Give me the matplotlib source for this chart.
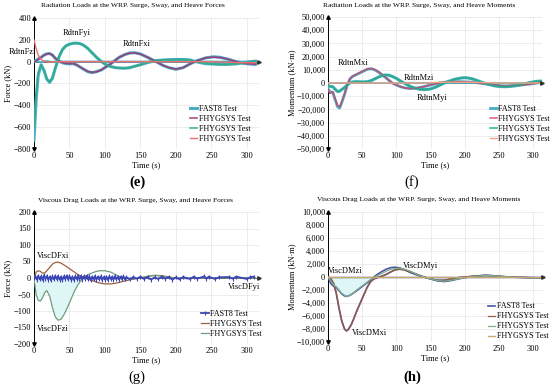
import numpy as np
import matplotlib.pyplot as plt
from matplotlib.ticker import FuncFormatter

plt.rcParams['font.family'] = ['Liberation Serif', 'DejaVu Serif']

# ---- (e) radiation forces ----
t_e = [0, 3, 6, 10, 14, 18, 22, 26, 30, 35, 40, 45, 50, 55, 60, 65, 70, 76, 82, 88, 95, 102, 108, 115,
       120, 128, 135, 142, 150, 160, 172, 182, 190, 200, 210, 220, 228, 235, 242, 253, 262, 272, 285, 295, 305, 312]
fast8_fx_e = [0, 10, 25, 40, 60, 72, 75, 60, 30, 5, -10, -18, -20, -18, -30, -50, -70, -92, -100, -92, -75, -45, -20, 15,
              40, 65, 80, 82, 70, 40, 0, -35, -55, -70, -55, -20, 5, 20, 35, 45, 40, 25, 0, -15, -22, -25]
fhyg_fx_e = [0, 8, 22, 38, 58, 70, 74, 60, 32, 6, -8, -16, -18, -16, -28, -48, -68, -90, -98, -92, -75, -45, -20, 15,
             40, 65, 78, 80, 70, 40, 0, -35, -55, -68, -55, -20, 5, 20, 35, 42, 38, 25, 0, -15, -20, -22]
fast8_fy_e = [-720, -350, -120, -30, -80, -160, -190, -150, -60, 40, 110, 145, 160, 168, 170, 165, 150, 120, 80, 40, 0, -30, -45, -55,
              -58, -60, -55, -42, -28, -8, 10, 15, 18, 20, 20, 15, 0, -10, -18, -22, -25, -25, -20, -10, 0, 5]
fhyg_fy_e = [-600, -300, -100, -25, -75, -155, -185, -150, -60, 40, 110, 145, 160, 168, 170, 165, 150, 120, 80, 40, 0, -30, -45, -55,
             -58, -60, -55, -42, -28, -8, 10, 15, 18, 20, 20, 15, 0, -10, -18, -22, -25, -25, -20, -10, 0, 5]
fast8_fz_e = [10, 5, 0, -5, 0, 5, 0, -3, 0, 2, 0, 0, 0, 0, 0, 0, 0, 0, 0, 0, 0, 0, 0, 0,
              0, 0, 0, 0, 0, 0, 0, 0, 0, 0, 0, 0, 0, 0, 0, 0, 0, 0, 0, 0, 0, 0]
fhyg_fz_e = [200, 120, 60, 20, 5, 0, -3, -2, 0, 0, 0, 0, 0, 0, 0, 0, 0, 0, 0, 0, 0, 0, 0, 0,
             0, 0, 0, 0, 0, 0, 0, 0, 0, 0, 0, 0, 0, 0, 0, -2, -4, -6, -8, -10, -10, -10]

# ---- (f) radiation moments ----
t_f = [0, 3, 7, 10, 14, 17, 20, 24, 28, 32, 36, 40, 46, 52, 58, 64, 70, 76, 82, 88, 94, 100, 106, 113,
       120, 128, 135, 142, 150, 158, 166, 175, 185, 195, 200, 205, 212, 220, 228, 236, 244, 252, 260, 268, 276, 284, 292, 300, 306, 313]
fast8_mx_f = [-4000, -7000, -7000, -12000, -18000, -19000, -15000, -9000, -2000, 3000, 5000, 6000, 7500, 9000, 10500, 10800, 9500, 7500, 5000, 2500, 0, -1500, -2800, -3800,
              -4200, -4000, -3300, -2500, -1500, -500, 300, 800, 1000, 1000, 900, 800, 500, 0, -500, -1000, -1500, -2000, -2200, -2000, -1800, -1500, -1000, -500, 0, 300]
fhyg_mx_f = [-5000, -8000, -6500, -11000, -17000, -18000, -14500, -8500, -1500, 3200, 5200, 6200, 7700, 9300, 10800, 11000, 9800, 7700, 5200, 2600, 0, -1500, -2800, -3800,
             -4200, -4000, -3300, -2500, -1500, -500, 300, 800, 1000, 1000, 900, 800, 500, 0, -500, -1000, -1500, -2000, -2200, -2000, -1800, -1500, -1000, -500, 0, 300]
fast8_my_f = [-2000, -2500, -2800, -4500, -6500, -6200, -5000, -3500, -1500, 0, 800, 1000, 900, 800, 1000, 2000, 3500, 5000, 6000, 6000, 5000, 3500, 1500, -500,
              -2500, -4000, -4800, -5000, -4500, -3000, -1000, 1000, 2800, 3800, 4000, 3800, 3000, 1500, 0, -1200, -2200, -2700, -2800, -2500, -2000, -1000, 0, 800, 1300, 1500]
fhyg_my_f = [-2000, -2500, -2800, -4500, -6300, -6000, -5000, -3500, -1500, 0, 800, 1000, 900, 800, 1000, 2000, 3500, 5000, 6000, 6000, 5000, 3500, 1500, -500,
             -2500, -4000, -4800, -5000, -4500, -3000, -1000, 1000, 2800, 3800, 4000, 3800, 3000, 1500, 0, -1200, -2200, -2700, -2800, -2500, -2000, -1000, 0, 800, 1300, 1500]
fast8_mz_f = [0] * len(t_f)
fhyg_mz_f = [0, 0, 0, 0, 0, 0, 0, 0, 0, 0, 0, 0, 0, 0, 0, 0, 0, 0, 0, 0, 0, 0, 0, 0,
             0, 0, 0, 0, 200, 400, 500, 600, 600, 600, 600, 600, 500, 400, 300, 200, 0, 0, 0, 0, 0, 0, 0, 0, 0, 0]

# ---- (g) viscous drag forces ----
t_g = [0, 3, 6, 9, 12, 15, 18, 22, 26, 30, 34, 38, 42, 47, 52, 57, 62, 67, 72, 78, 85, 92, 100, 108, 115,
       122, 130, 140, 150, 160, 170, 180, 190, 200, 215, 230, 260, 290, 312]
fhyg_fx_g = [0, 18, 22, 20, 15, 15, 22, 32, 42, 47, 48, 45, 40, 33, 25, 18, 10, 5, 0, -5, -10, -15, -18, -18, -16,
             -12, -8, -3, 0, 5, 8, 7, 3, 0, -2, 0, 0, 0, 0]
fhyg_fz_g = [0, -50, -68, -70, -60, -45, -38, -55, -90, -118, -128, -125, -112, -90, -65, -40, -20, -5, 5, 12, 18, 22, 22, 18, 10,
             3, 0, -3, 0, 5, 8, 6, 2, 0, 0, 0, 0, 0, 0]
t_fast8_g = [0, 2, 4, 6, 8, 10, 12, 14, 16, 18, 20, 22, 24, 26, 28, 30, 32, 34, 36, 38, 40, 42, 44, 46, 48, 50,
             52, 54, 56, 58, 60, 62, 64, 66, 68, 70, 72, 74, 76, 78, 80, 82, 84, 86, 88, 90, 92, 94, 96, 98, 100,
             102, 104, 106, 108, 110, 112, 114, 116, 118, 120, 122, 124, 126, 128, 130, 135, 140, 145, 150, 155,
             160, 165, 170, 175, 180, 185, 190, 195, 200, 205, 210, 220, 225, 230, 240, 243, 246, 255, 260, 275, 280, 285, 300, 305, 310]
fast8_fy_g = [0, 6, -5, 7, -4, 5, -6, 8, -3, 6, -5, 4, -7, 5, -4, 7, -3, 6, -5, 4, -6, 5, -3, 7, -4, 6,
              -5, 4, -6, 5, -3, 7, -4, 6, -5, 5, -3, 6, -4, 5, -6, 4, -3, 6, -5, 4, -4, 5, -6, 3, -5,
              4, -6, 5, -3, 4, -5, 6, -4, 3, -5, 4, -3, 5, -4, 3, -4, 3, -2, 4, -3,
              3, -5, 2, -3, 4, -2, 3, -5, 2, -4, 3, -3, 4, -2, 5, -2, 4, -3, 2, 3, -2, 4, -3, 3, 4]

# ---- (h) viscous drag moments ----
t_h = [0, 4, 8, 12, 16, 20, 24, 27, 30, 34, 38, 42, 47, 52, 57, 62, 67, 72, 78, 85, 92, 98, 105, 112,
       120, 130, 140, 150, 160, 170, 180, 190, 200, 210, 220, 230, 240, 250, 265, 280, 295, 312]
fast8_mx_h = [0, -300, -1000, -2500, -4800, -6800, -8000, -8300, -8000, -7300, -6300, -5200, -4000, -2800, -1600, -700, -300, -100, 100, 400, 800, 1100, 1200, 1100,
              800, 400, 0, -300, -500, -500, -300, -100, 0, 100, 200, 250, 200, 100, 0, -50, -100, -100]
fhyg_mx_h = [0, -200, -900, -2300, -4600, -6600, -7900, -8300, -8100, -7400, -6400, -5300, -4100, -2900, -1700, -800, -300, -100, 100, 400, 800, 1100, 1200, 1100,
             800, 400, 0, -300, -500, -500, -300, -100, 0, 100, 200, 250, 200, 100, 0, -50, -100, -100]
fast8_my_h = [0, -1000, -1400, -1600, -2100, -2600, -2900, -3000, -2900, -2700, -2400, -2100, -1700, -1300, -900, -500, 0, 400, 800, 1200, 1450, 1500, 1400, 1100,
              700, 300, 0, -300, -600, -700, -550, -300, -100, 50, 150, 250, 200, 100, 0, -50, -100, -150]
fhyg_my_h = [0, -600, -1200, -1500, -2000, -2500, -2800, -3000, -2900, -2700, -2400, -2000, -1600, -1200, -800, -400, -100, 200, 500, 900, 1200, 1300, 1350, 1200,
             900, 400, 0, -300, -550, -650, -500, -300, -100, 50, 150, 250, 200, 100, 0, -50, -100, -150]
fast8_mz_h = [0] * len(t_h)
fhyg_mz_h = [0] * len(t_h)

fig = plt.figure(figsize=(5.5, 3.9), dpi=100)
fs_tick = 6.0
fs_title = 5.4
fs_leg = 5.8
fs_note = 6.0


def setup(ax, xmax, ylo, yhi, ystep, ylabel, comma=False):
    ax.set_xlim(0, xmax)
    ax.set_ylim(ylo, yhi)
    ax.set_xticks(np.arange(0, 301, 50))
    ax.set_yticks(np.arange(ylo, yhi + ystep / 2, ystep))
    for s in ['top', 'right', 'bottom', 'left']:
        ax.spines[s].set_visible(False)
    ax.grid(True, color='#e4e4e4', lw=0.5)
    ax.set_axisbelow(True)
    ax.tick_params(length=0, labelsize=fs_tick, pad=2)
    if comma:
        ax.yaxis.set_major_formatter(FuncFormatter(lambda v, p: '{:,.0f}'.format(v).replace('-', '\u2212')))
    ax.axhline(0, color='#555555', lw=0.6, zorder=1)
    ax.axvline(0, color='black', lw=0.7, zorder=1)
    ax.plot([0], [yhi], marker='^', color='black', ms=2.5, clip_on=False, zorder=6)
    ax.plot([0], [ylo], marker='v', color='black', ms=2.5, clip_on=False, zorder=6)
    ax.plot([xmax], [0], marker='>', color='#333333', ms=2.5, clip_on=False, zorder=6)
    ax.set_ylabel(ylabel, fontsize=fs_tick, labelpad=1)
    ax.set_xlabel('Time (s)', fontsize=fs_tick, labelpad=1)


def legend(ax, handles, x, y):
    ax.legend(handles=handles, loc='upper left', bbox_to_anchor=(x, y), frameon=False,
              fontsize=fs_leg, handlelength=0.9, handletextpad=0.2, labelspacing=0.25, borderaxespad=0)


def title(x, y, s):
    fig.text(x / 550, 1 - y / 390, s, fontsize=fs_title, ha='center', va='center')


# (e)
ax = fig.add_axes([34 / 550, 241 / 390, 225 / 550, 131 / 390])
setup(ax, 317, -800, 400, 200, 'Force (kN)')
title(133, 6, 'Radiation Loads at the WRP. Surge, Sway, and Heave Forces')
h1, = ax.plot(t_e, fast8_fx_e, color='#4bacc6', lw=2.2, label='FAST8 Test', zorder=3)
ax.plot(t_e, fast8_fy_e, color='#4bacc6', lw=2.2, zorder=3)
ax.plot(t_e, fast8_fz_e, color='#4bacc6', lw=1.5, zorder=3)
h2, = ax.plot(t_e, fhyg_fx_e, color='#a03070', lw=1.2, alpha=0.85, label='FHYGSYS Test', zorder=4)
h3, = ax.plot(t_e, fhyg_fy_e, color='#2aae7a', lw=1.2, alpha=0.85, label='FHYGSYS Test', zorder=4)
h4, = ax.plot(t_e, fhyg_fz_e, color='#ee6f6f', lw=1.0, label='FHYGSYS Test', zorder=4)
legend(ax, [h1, h2, h3, h4], 0.68, 0.36)
ax.text(-36, 85, 'RdtnFzi', fontsize=fs_note, ha='left', va='center', clip_on=False)
ax.text(60, 265, 'RdtnFyi', fontsize=fs_note, ha='center', va='center')
ax.text(145, 162, 'RdtnFxi', fontsize=fs_note, ha='center', va='center')
fig.text(137 / 550, 1 - 182 / 390, '(e)', fontsize=10.5, fontweight='bold', ha='center', va='center')

# (f)
ax = fig.add_axes([328 / 550, 241 / 390, 214 / 550, 132 / 390])
setup(ax, 313, -50000, 50000, 10000, 'Momentum (kN\u00b7m)', comma=True)
title(419, 6, 'Radiation Loads at the WRP. Surge, Sway, and Heave Moments')
h1, = ax.plot(t_f, fast8_mx_f, color='#4bacc6', lw=2.0, label='FAST8 Test', zorder=3)
ax.plot(t_f, fast8_my_f, color='#4bacc6', lw=2.2, zorder=3)
ax.plot(t_f, fast8_mz_f, color='#4bacc6', lw=1.2, zorder=3)
h2, = ax.plot(t_f, fhyg_mx_f, color='#d0406a', lw=1.1, alpha=0.85, label='FHYGSYS Test', zorder=4)
h3, = ax.plot(t_f, fhyg_my_f, color='#1fae80', lw=1.3, alpha=0.8, label='FHYGSYS Test', zorder=4)
h4, = ax.plot(t_f, fhyg_mz_f, color='#f4a582', lw=1.0, label='FHYGSYS Test', zorder=4)
legend(ax, [h1, h2, h3, h4], 0.74, 0.36)
ax.text(37, 15000, 'RdtnMxi', fontsize=fs_note, ha='center', va='center')
ax.text(133, 3800, 'RdtnMzi', fontsize=fs_note, ha='center', va='center')
ax.text(152, -11300, 'RdtnMyi', fontsize=fs_note, ha='center', va='center')
fig.text(412 / 550, 1 - 182 / 390, '(f)', fontsize=10.5, ha='center', va='center')

# (g)
ax = fig.add_axes([34 / 550, 46 / 390, 225 / 550, 132 / 390])
setup(ax, 317, -200, 200, 50, 'Force (kN)')
title(135, 201, 'Viscous Drag Loads at the WRP. Surge, Sway, and Heave Forces')
ax.fill_between(t_g, fhyg_fz_g, 0, where=np.array(fhyg_fz_g) < 0, color='#dff6f6', lw=0, zorder=2)
h1, = ax.plot(t_fast8_g, fast8_fy_g, color='#3b45b5', lw=1.3, marker='|', ms=3, mew=0.8,
              label='FAST8 Test', zorder=5)
h2, = ax.plot(t_g, fhyg_fx_g, color='#a0603a', lw=0.9, label='FHYGSYS Test', zorder=4)
h3, = ax.plot(t_g, fhyg_fz_g, color='#6e9e7c', lw=0.9, label='FHYGSYS Test', zorder=4)
legend(ax, [h1, h2, h3], 0.73, 0.28)
ax.text(4, 67, 'ViscDFxi', fontsize=fs_note, ha='left', va='center')
ax.text(4, -155, 'ViscDFzi', fontsize=fs_note, ha='left', va='center')
ax.text(296, -28, 'ViscDFyi', fontsize=fs_note, ha='center', va='center')
fig.text(137 / 550, 1 - 377 / 390, '(g)', fontsize=10.5, ha='center', va='center')

# (h)
ax = fig.add_axes([328 / 550, 48 / 390, 215 / 550, 130 / 390])
setup(ax, 314, -10000, 10000, 2000, 'Momentum (kN\u00b7m)', comma=True)
title(419, 200, 'Viscous Drag Loads at the WRP. Surge, Sway, and Heave Moments')
ax.fill_between(t_h, fast8_my_h, 0, where=np.array(fast8_my_h) < 0, color='#dff6f6', lw=0, zorder=2)
h1, = ax.plot(t_h, fast8_mx_h, color='#4a55a8', lw=1.2, label='FAST8 Test', zorder=3)
ax.plot(t_h, fast8_my_h, color='#4a55a8', lw=1.2, zorder=3)
ax.plot(t_h, fast8_mz_h, color='#4a55a8', lw=1.0, zorder=3)
h2, = ax.plot(t_h, fhyg_mx_h, color='#9b5b3a', lw=0.9, label='FHYGSYS Test', zorder=4)
h3, = ax.plot(t_h, fhyg_my_h, color='#7fb08a', lw=0.9, label='FHYGSYS Test', zorder=4)
h4, = ax.plot(t_h, fhyg_mz_h, color='#c8a96e', lw=1.0, label='FHYGSYS Test', zorder=4)
legend(ax, [h1, h2, h3, h4], 0.73, 0.33)
ax.text(25, 950, 'ViscDMzi', fontsize=fs_note, ha='center', va='center')
ax.text(135, 1700, 'ViscDMyi', fontsize=fs_note, ha='center', va='center')
ax.text(60, -8600, 'ViscDMxi', fontsize=fs_note, ha='center', va='center')
fig.text(412 / 550, 1 - 377 / 390, '(h)', fontsize=10.5, fontweight='bold', ha='center', va='center')

fig.savefig('out.png', dpi=100)
